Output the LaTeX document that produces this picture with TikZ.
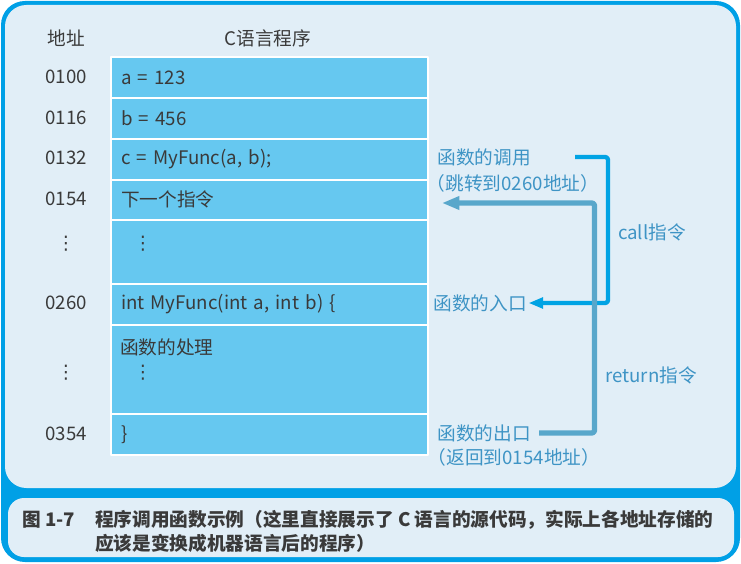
\documentclass[tikz,border=0pt]{standalone}
\usepackage{fontspec}
\setmainfont{Noto Sans CJK SC}
\newfontfamily\symfont{DejaVu Sans}
\usetikzlibrary{arrows.meta}
\definecolor{frameblue}{HTML}{00A0E6}
\definecolor{panel}{HTML}{E1EEF7}
\definecolor{cellblue}{HTML}{66C8F0}
\definecolor{txtgray}{HTML}{3A3A3A}
\definecolor{lblblue}{HTML}{3E94C5}
\definecolor{callblue}{HTML}{00A3E4}
\definecolor{retblue}{HTML}{58A7CB}
\newcommand\vdot{{\symfont ⋮}}
\tikzset{
	txt/.style={text=txtgray,inner sep=0pt},
	lbl/.style={text=lblblue,inner sep=1pt},
	captxt/.style={text=txtgray,inner sep=0pt,font=\fontsize{14}{17}\selectfont\bfseries},
	cell/.style={draw=white,line width=1.5pt,fill=cellblue,anchor=north west,text=txtgray,
		text width=222.75pt,inner xsep=7.5pt,inner ysep=0pt,align=left},
	callarrow/.style={draw=callblue,line width=3.2pt,rounded corners=2pt,-{Triangle[length=11pt,width=8pt]}},
	retarrow/.style={draw=retblue,line width=4pt,rounded corners=2pt,-{Triangle[length=13pt,width=9.5pt]}}
}
\begin{document}
\begin{tikzpicture}[x=0.75pt,y=-0.75pt,font=\fontsize{14}{16}\selectfont,line join=round]
	\useasboundingbox (0,0) rectangle (741,563);
	% frame and panels
	\fill[frameblue,rounded corners=18pt] (1,1) rectangle (740,562);
	\fill[panel,rounded corners=16pt] (5,5) rectangle (736,488);
	\fill[panel,rounded corners=12pt] (8,498) rectangle (734,557);
	% headings
	\node[txt] (hAddr) at (66,38) {地址};
	\node[txt] (hProg) at (268,38) {C语言程序};
	% memory cells with their addresses
	\foreach \n/\t/\b/\txt/\addr/\ay in {
		r1/56.5/97/{a = 123}/0100/76.5,
		r2/97/138/{b = 456}/0116/117.5,
		r3/138/178.5/{c = MyFunc(a, b);}/0132/158,
		r4/178.5/219/{下一个指令}/0154/198.5,
		r5/219/283/{}/{\vdot}/244,
		r6/283/323.5/{int MyFunc(int a, int b) \{}/0260/303,
		r7/323.5/413/{}/{\vdot}/373,
		r8/413/454/{\}}/0354/433.5}{
		\pgfmathsetmacro\hh{(\b-\t)*0.75}
		\node[cell,minimum height=\hh pt] (\n) at (110,\t) {\txt};
		\node[txt] (a\n) at (66,\ay) {\addr};
	}
	\node[txt] (dotsA) at (143,244) {\vdot};
	\node[txt,anchor=west] (body) at (120,347) {函数的处理};
	\node[txt] (dotsB) at (143,373) {\vdot};
	% right labels
	\node[lbl,anchor=west] (callLbl) at (436,157) {函数的调用};
	\node[lbl] (callNote) at (513,183) {（跳转到0260地址）};
	\node[lbl,anchor=west] (entry) at (432,303) {函数的入口};
	\node[lbl,anchor=west] (exit) at (436,433) {函数的出口};
	\node[lbl] (retNote) at (514,457) {（返回到0154地址）};
	\node[lbl] (callCmd) at (652,232) {call指令};
	\node[lbl] (retCmd) at (651,375) {return指令};
	\coordinate (callOut) at (575,157);
	\coordinate (retIn) at (442,203);
	\draw[callarrow] (callOut) -- ++(33,0) |- (entry.east);
	\draw[retarrow,shorten <=5pt] (exit.east) -- ++(62,0) |- (retIn);
	% caption
	\node[captxt,anchor=west] (capNo) at (22,520) {图 1-7};
	\node[captxt,anchor=west] (capA) at (95,520) {程序调用函数示例（这里直接展示了 C 语言的源代码，实际上各地址存储的};
	\node[captxt,anchor=west] (capB) at (95,543) {应该是变换成机器语言后的程序）};
\end{tikzpicture}
\end{document}
